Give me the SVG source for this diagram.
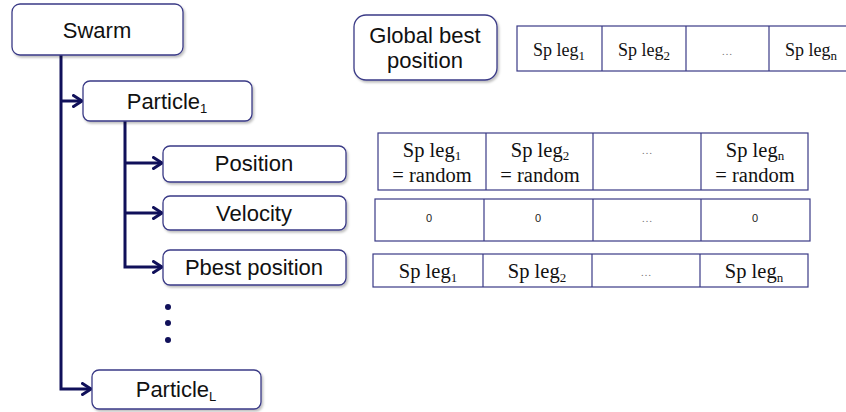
<svg xmlns="http://www.w3.org/2000/svg" width="846" height="412" viewBox="0 0 846 412">
  <defs>
    <filter id="shadow" x="-10%" y="-20%" width="120%" height="150%">
      <feDropShadow dx="1.5" dy="2" stdDeviation="1.2" flood-color="#000" flood-opacity="0.25"/>
    </filter>
    <marker id="chev" viewBox="0 0 12 14" refX="10.5" refY="7" markerWidth="12" markerHeight="14" markerUnits="userSpaceOnUse" orient="auto">
      <path d="M2,1.5 L10.5,7 L2,12.5" fill="none" stroke="#10105a" stroke-width="3" stroke-linecap="round" stroke-linejoin="round"/>
    </marker>
  </defs>
  <style>
    .node rect { fill: #fff; stroke: #3a3a86; stroke-width: 1.3; filter: url(#shadow); }
    .lbl { font-family: "Liberation Sans", Arial, sans-serif; font-size: 22px; fill: #111; text-anchor: middle; }
    .sub { font-size: 13px; }
    .conn path { fill: none; stroke: #10105a; stroke-width: 3; }
    .grid rect, .grid line { fill: none; stroke: #3a3a86; stroke-width: 1.2; }
    .cell { font-family: "Liberation Serif", "Times New Roman", serif; font-size: 20.5px; fill: #111; text-anchor: middle; }
    .cs { font-size: 13px; }
    .zero { font-family: "Liberation Sans", Arial, sans-serif; font-size: 11px; fill: #222; text-anchor: middle; }
    .ell { font-family: "Liberation Serif", serif; font-size: 11px; fill: #777; text-anchor: middle; }
  </style>

  <!-- tree connectors -->
  <g class="conn" id="connectors">
    <path d="M61,55 V389 H91" marker-end="url(#chev)"/>
    <path d="M61,101 H82" marker-end="url(#chev)"/>
    <path d="M125,121 V267 H162" marker-end="url(#chev)"/>
    <path d="M125,163 H162" marker-end="url(#chev)"/>
    <path d="M125,213 H162" marker-end="url(#chev)"/>
  </g>

  <!-- vertical ellipsis between particles -->
  <g id="more" fill="#10105a">
    <circle cx="168" cy="307" r="3"/>
    <circle cx="168" cy="323" r="3"/>
    <circle cx="168" cy="340" r="3"/>
  </g>

  <g class="node" id="swarm">
    <rect x="12" y="4" width="171" height="51" rx="8"/>
    <text class="lbl" x="97" y="38">Swarm</text>
  </g>
  <g class="node" id="particle1">
    <rect x="83" y="81" width="169" height="40" rx="7"/>
    <text class="lbl" x="167" y="109">Particle<tspan class="sub" dy="4">1</tspan></text>
  </g>
  <g class="node" id="position">
    <rect x="163" y="146" width="183" height="36" rx="7"/>
    <text class="lbl" x="254" y="171">Position</text>
  </g>
  <g class="node" id="velocity">
    <rect x="163" y="196" width="183" height="34" rx="7"/>
    <text class="lbl" x="254" y="221">Velocity</text>
  </g>
  <g class="node" id="pbest">
    <rect x="163" y="250" width="183" height="35" rx="7"/>
    <text class="lbl" x="254" y="275">Pbest position</text>
  </g>
  <g class="node" id="particleL">
    <rect x="92" y="370" width="169" height="39" rx="7"/>
    <text class="lbl" x="176" y="397">Particle<tspan class="sub" dy="4">L</tspan></text>
  </g>
  <g class="node" id="gbest">
    <rect x="354" y="15" width="143" height="65" rx="12"/>
    <text class="lbl" x="425" y="43">Global best</text>
    <text class="lbl" x="425" y="68">position</text>
  </g>

  <!-- global best position vector -->
  <g class="grid" id="gbest-table">
    <rect x="517" y="26" width="340" height="45"/>
    <line x1="602" y1="26" x2="602" y2="71"/>
    <line x1="686" y1="26" x2="686" y2="71"/>
    <line x1="769" y1="26" x2="769" y2="71"/>
    <text class="cell" x="559" y="56" style="font-size:18px">Sp leg<tspan class="cs" dy="4">1</tspan></text>
    <text class="cell" x="644" y="56" style="font-size:18px">Sp leg<tspan class="cs" dy="4">2</tspan></text>
    <text class="ell" x="727" y="55">…</text>
    <text class="cell" x="811" y="56" style="font-size:18px">Sp leg<tspan class="cs" dy="4">n</tspan></text>
  </g>

  <!-- position vector -->
  <g class="grid" id="position-table">
    <rect x="378" y="133" width="430" height="57"/>
    <line x1="486" y1="133" x2="486" y2="190"/>
    <line x1="593" y1="133" x2="593" y2="190"/>
    <line x1="701" y1="133" x2="701" y2="190"/>
    <text class="cell" x="432" y="157">Sp leg<tspan class="cs" dy="3">1</tspan></text>
    <text class="cell" x="432" y="182">= random</text>
    <text class="cell" x="540" y="157">Sp leg<tspan class="cs" dy="3">2</tspan></text>
    <text class="cell" x="540" y="182">= random</text>
    <text class="ell" x="647" y="154">…</text>
    <text class="cell" x="755" y="157">Sp leg<tspan class="cs" dy="3">n</tspan></text>
    <text class="cell" x="755" y="182">= random</text>
  </g>

  <!-- velocity vector -->
  <g class="grid" id="velocity-table">
    <rect x="375" y="199" width="435" height="42"/>
    <line x1="484" y1="199" x2="484" y2="241"/>
    <line x1="593" y1="199" x2="593" y2="241"/>
    <line x1="701" y1="199" x2="701" y2="241"/>
    <text class="zero" x="429" y="222">0</text>
    <text class="zero" x="538" y="222">0</text>
    <text class="ell" x="647" y="222">…</text>
    <text class="zero" x="755" y="222">0</text>
  </g>

  <!-- pbest vector -->
  <g class="grid" id="pbest-table">
    <rect x="373" y="254" width="435" height="33"/>
    <line x1="483" y1="254" x2="483" y2="287"/>
    <line x1="592" y1="254" x2="592" y2="287"/>
    <line x1="700" y1="254" x2="700" y2="287"/>
    <text class="cell" x="428" y="278">Sp leg<tspan class="cs" dy="4">1</tspan></text>
    <text class="cell" x="537" y="278">Sp leg<tspan class="cs" dy="4">2</tspan></text>
    <text class="ell" x="646" y="276">…</text>
    <text class="cell" x="754" y="278">Sp leg<tspan class="cs" dy="4">n</tspan></text>
  </g>
</svg>
